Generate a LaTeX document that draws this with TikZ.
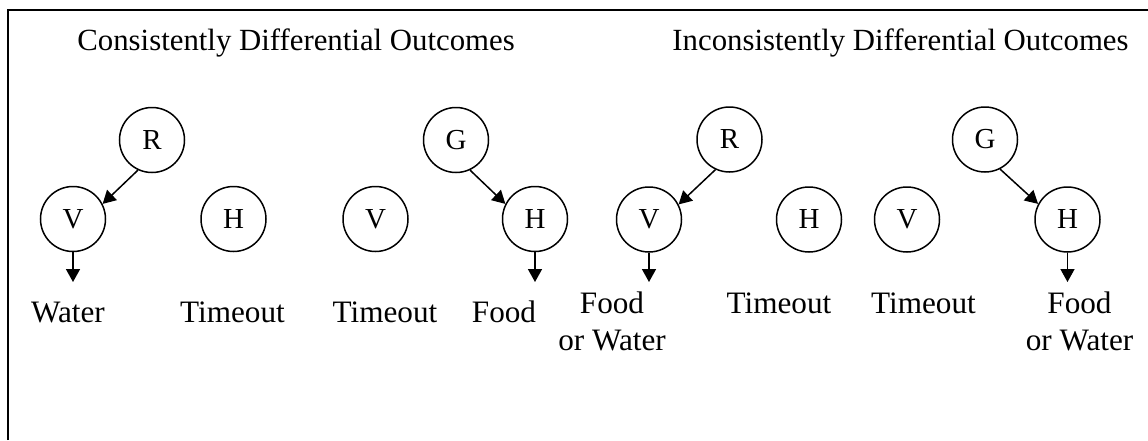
\documentclass[tikz,border=0pt]{standalone}
\usepackage{fontspec}
\setmainfont{Liberation Serif}
\usetikzlibrary{arrows.meta}
\begin{document}
\begin{tikzpicture}[x=0.5pt,y=-0.5pt,
  state/.style={circle,draw,line width=0.75pt,minimum size=32.5pt,inner sep=0pt,font=\fontsize{14.5}{17}\selectfont},
  lbl/.style={anchor=base,font=\fontsize{15.6}{18.5}\selectfont,align=center,inner sep=0pt},
  ttl/.style={font=\fontsize{15.4}{18.5}\selectfont,inner sep=0pt},
  arr/.style={line width=0.75pt,-{Triangle[length=6.5pt,width=7pt]}},
  frame/.style={line width=1pt}]
\useasboundingbox (0,0) rectangle (1148,440);
\coordinate (fa) at (8,440);
\coordinate (fb) at (8,10);
\coordinate (fc) at (1148,10);
\draw[frame] (fa) -- (fb) -- (fc);

\node[ttl,anchor=base west] (t1) at (77,50) {Consistently Differential Outcomes};
\node[ttl,anchor=base east] (t2) at (1129,50) {Inconsistently Differential Outcomes};

\node[state] (r1) at (152,140) {R};
\node[state] (v1) at (73,219) {V};
\node[state] (h1) at (233.5,219) {H};
\node[state] (v2) at (375.5,219) {V};
\node[state] (g1) at (456,140) {G};
\node[state] (h2) at (535,219) {H};
\node[state] (r2) at (729.5,139.5) {R};
\node[state] (v3) at (649,219.5) {V};
\node[state] (h3) at (809,219.5) {H};
\node[state] (v4) at (907,219.5) {V};
\node[state] (g2) at (985,139.5) {G};
\node[state] (h4) at (1067.5,219.5) {H};

\coordinate (e1) at (73,282);
\coordinate (e2) at (535,282);
\coordinate (e3) at (649,282);
\coordinate (e4) at (1067.5,282);

\draw[arr] (r1.245) -- (v1.27);
\draw[arr] (g1.295) -- (h2.153);
\draw[arr] (r2.245) -- (v3.27);
\draw[arr] (g2.297) -- (h4.152);
\draw[arr] (v1.south) -- (e1);
\draw[arr] (h2.south) -- (e2);
\draw[arr] (v3.south) -- (e3);
\draw[arr] (h4.south) -- (e4);

\node[lbl] (w1) at (68,322) {Water};
\node[lbl] (to1) at (232.5,322) {Timeout};
\node[lbl] (to2) at (385,322) {Timeout};
\node[lbl] (f1) at (504,322) {Food};
\node[lbl] (fw1) at (612,350) {Food\\or Water};
\node[lbl] (to3) at (779,313) {Timeout};
\node[lbl] (to4) at (923.5,313) {Timeout};
\node[lbl] (fw2) at (1079.5,350) {Food\\or Water};
\end{tikzpicture}
\end{document}
